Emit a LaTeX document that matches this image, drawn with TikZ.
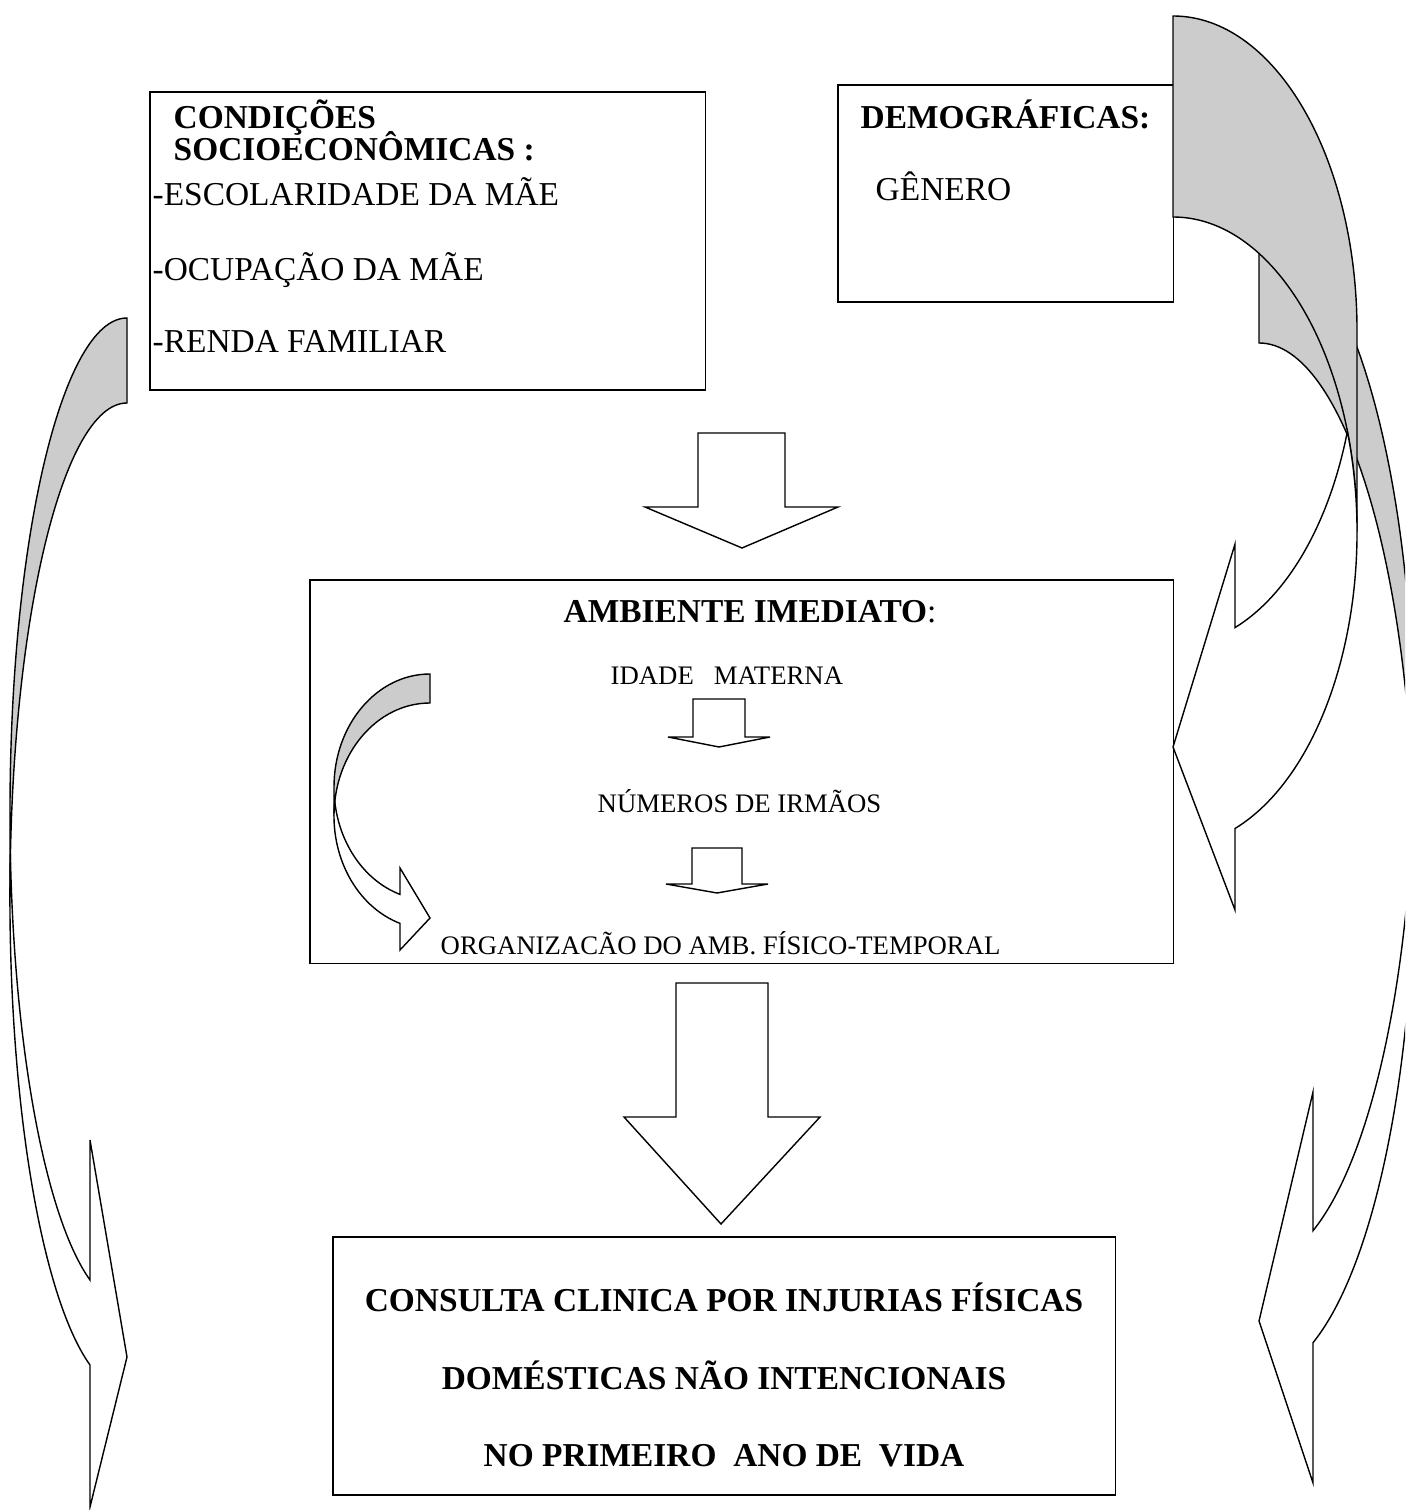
\documentclass[tikz,border=0pt]{standalone}
\usepackage{fontspec}
\setmainfont{Liberation Serif}
\definecolor{backgray}{RGB}{204,204,204}
% block arrow pointing down: shaft left/right, shaft top, head base, head left/right, tip
\newcommand{\blockdown}[8]{\draw[shape line] (#1,#3) -- (#2,#3) -- (#2,#4) -- (#6,#4) -- (#7,#8) -- (#5,#4) -- (#1,#4) -- cycle;}
\tikzset{
  shape line/.style={draw=black, fill=white, line width=0.4pt},
  back part/.style={draw=black, fill=backgray, line width=0.4pt},
  box/.style={draw=black, line width=0.4pt, inner sep=0pt, outer sep=0pt, anchor=north west},
  bigtext/.style={font=\fontsize{9.5}{11}\selectfont, inner sep=0pt, anchor=base west},
  smalltext/.style={font=\fontsize{7.6}{9}\selectfont, inner sep=0pt, anchor=base west}
}
\begin{document}
\begin{tikzpicture}[x=0.01cm, y=-0.01cm]
  \useasboundingbox (0,0) rectangle (1405,1510);
  \clip (0,0) rectangle (1405,1510);
  % boxes
  \node[box, minimum width=5.55cm, minimum height=2.98cm] (socio) at (150,92) {};
  \node[box, minimum width=3.35cm, minimum height=2.17cm] (demo) at (838,85) {};
  \node[box, minimum width=8.63cm, minimum height=3.83cm] (amb) at (310,580) {};
  \node[box, minimum width=7.82cm, minimum height=2.58cm] (consulta) at (333,1237) {};
  % straight block arrows
  \blockdown{698}{785}{433}{507}{645}{838}{742}{548}
  \blockdown{693}{745}{699}{737}{668}{770}{719}{747}
  \blockdown{692}{742}{848}{884}{666}{768}{717}{893}
  \blockdown{676}{768}{983}{1117}{624}{820}{721}{1224}
  % right outer curved arrow
  \draw[back part] (1259,231) arc[start angle=-90, end angle=0, x radius=155, y radius=516]
    -- (1414,859) arc[start angle=0, end angle=-90, x radius=155, y radius=516] -- cycle;
  \draw[shape line] (1259,1321) -- (1313,1092) -- (1313,1230.7)
    arc[start angle=69.6, end angle=6.23, x radius=155, y radius=516]
    arc[start angle=-6.23, end angle=69.6, x radius=155, y radius=516]
    -- (1313,1483) -- cycle;
  % right inner curved arrow
  \draw[back part] (1173,16) arc[start angle=-90, end angle=0, x radius=184, y radius=315]
    -- (1357,532) arc[start angle=0, end angle=-90, x radius=184, y radius=315] -- cycle;
  \draw[shape line] (1173,747) -- (1235,544) -- (1235,627.6)
    arc[start angle=70.3, end angle=18.6, x radius=184, y radius=315]
    arc[start angle=-18.6, end angle=70.3, x radius=184, y radius=315]
    -- (1235,910) -- cycle;
  % left curved arrow
  \draw[back part] (127,318) arc[start angle=270, end angle=180, x radius=117, y radius=493.6]
    -- (10,896.6) arc[start angle=180, end angle=270, x radius=117, y radius=493.6] -- cycle;
  \draw[shape line] (127,1357) -- (90,1140) -- (90,1280)
    arc[start angle=108.4, end angle=175.06, x radius=117, y radius=493.6]
    arc[start angle=184.94, end angle=108.4, x radius=117, y radius=493.6]
    -- (90,1507) -- cycle;
  % small curved arrow in the box
  \draw[back part] (430,674) arc[start angle=270, end angle=180, x radius=96, y radius=113]
    -- (334,816) arc[start angle=180, end angle=270, x radius=96, y radius=113] -- cycle;
  \draw[shape line] (430,918) -- (400,868) -- (400,894.4)
    arc[start angle=108.2, end angle=172.63, x radius=96, y radius=113]
    arc[start angle=187.37, end angle=108.2, x radius=96, y radius=113]
    -- (400,950) -- cycle;
  % texts
  \node[bigtext] (cond) at (173,129) {\bfseries CONDIÇÕES};
  \node[bigtext] (socioec) at (173,161) {\bfseries SOCIOECONÔMICAS :};
  \node[bigtext] (escol) at (152,206) {-ESCOLARIDADE DA MÃE};
  \node[bigtext] (ocup) at (152,281) {-OCUPAÇÃO DA MÃE};
  \node[bigtext] (renda) at (152,353) {-RENDA FAMILIAR};
  \node[bigtext] (demog) at (860,129) {\bfseries DEMOGRÁFICAS:};
  \node[bigtext] (genero) at (875,201) {GÊNERO};
  \node[bigtext] (ambtit) at (563,623) {{\bfseries AMBIENTE IMEDIATO}:};
  \node[smalltext] (idade) at (610,685) {IDADE\ \ \ MATERNA};
  \node[smalltext] (irmaos) at (597,812) {NÚMEROS DE IRMÃOS};
  \node[smalltext] (organ) at (440,954) {ORGANIZACÃO DO AMB. FÍSICO-TEMPORAL};
  \node[bigtext, anchor=base] (cons1) at (724,1311) {\bfseries CONSULTA CLINICA POR INJURIAS FÍSICAS};
  \node[bigtext, anchor=base] (cons2) at (724,1389) {\bfseries DOMÉSTICAS NÃO INTENCIONAIS};
  \node[bigtext, anchor=base] (cons3) at (724,1466) {\bfseries NO PRIMEIRO\ \ ANO DE\ \ VIDA};
\end{tikzpicture}
\end{document}
